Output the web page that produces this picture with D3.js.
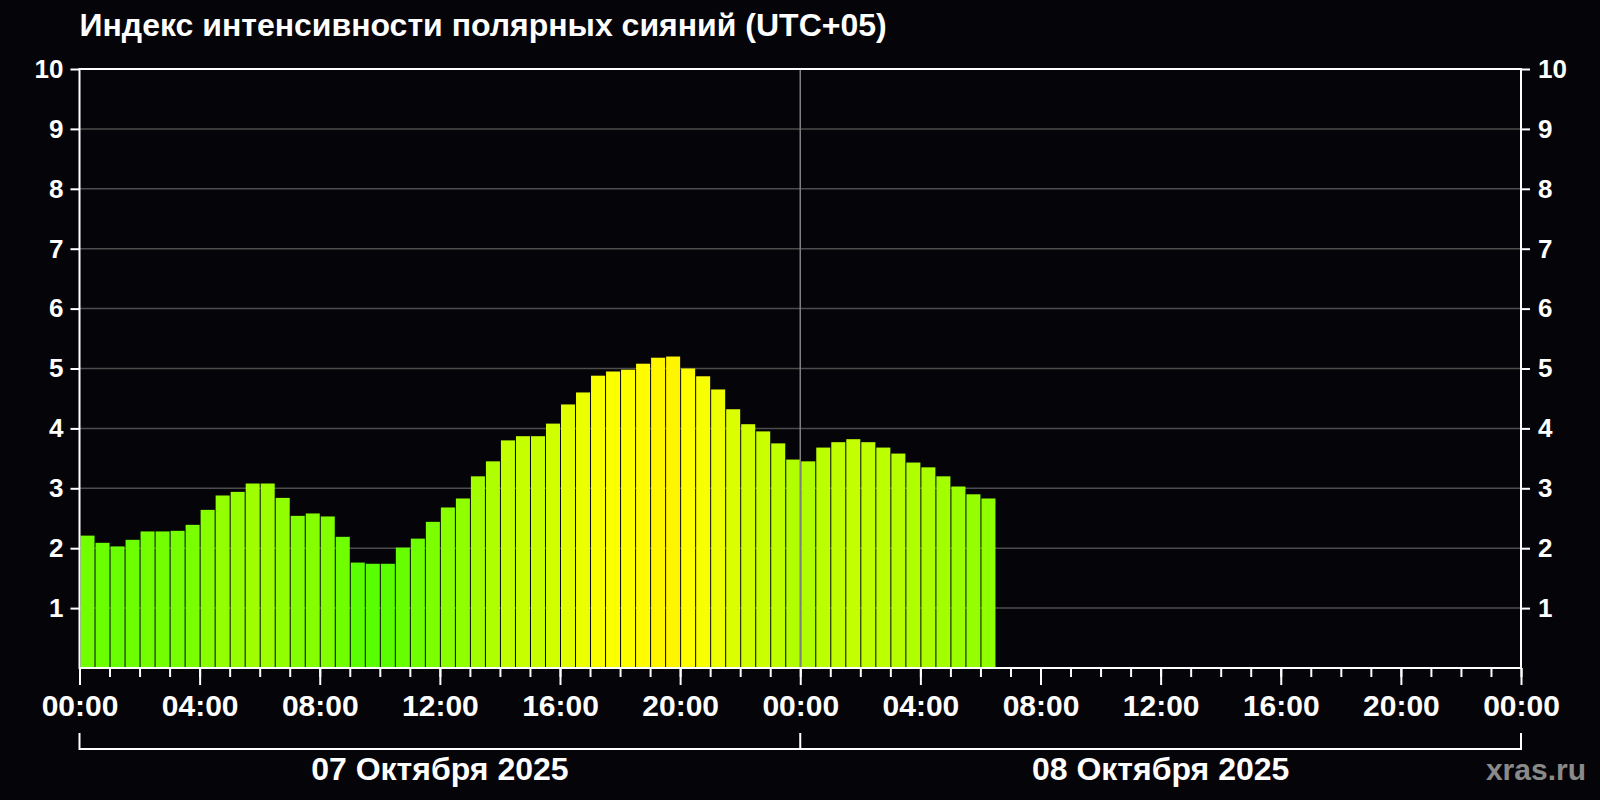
<!DOCTYPE html>
<html>
<head>
<meta charset="utf-8">
<script src="https://cdn.jsdelivr.net/npm/d3@7"></script>
<style>
    html, body { margin: 0; padding: 0; background: #050409; }
    svg { display: block; font-family: "Liberation Sans", Arial, sans-serif; font-weight: bold; }
</style>
</head>
<body>
<svg id="chart" width="1600" height="800"></svg>
<script>
"use strict";

//  Data  ---
var title = "Индекс интенсивности полярных сияний (UTC+05)";
var dayLabels = ["07 Октября 2025", "08 Октября 2025"];
var stepHours = 0.5;    // one bar per half hour, starting 07.10 00:00
var auroraIndex = [
    2.21, 2.09, 2.03, 2.14, 2.28, 2.28, 2.29, 2.39, 2.64, 2.88,
    2.94, 3.08, 3.08, 2.84, 2.54, 2.58, 2.53, 2.19, 1.76, 1.74,
    1.74, 2.01, 2.16, 2.44, 2.68, 2.83, 3.20, 3.45, 3.80, 3.87,
    3.87, 4.08, 4.40, 4.60, 4.88, 4.95, 4.98, 5.08, 5.18, 5.20,
    5.00, 4.87, 4.65, 4.32, 4.07, 3.95, 3.75, 3.48, 3.45, 3.68,
    3.77, 3.82, 3.77, 3.68, 3.58, 3.43, 3.35, 3.20, 3.03, 2.90,
    2.83
];
var yTicks = [1, 2, 3, 4, 5, 6, 7, 8, 9, 10];
var majorHours = d3.range(0, 49, 4);
var minorHours = d3.range(0, 49, 1);

//  Scales  ---
var svg = d3.select("#chart");
var plotLeft = 79.5, plotRight = 1521, plotTop = 69, plotBottom = 668;

var x = d3.scaleLinear().domain([0, 48]).range([plotLeft, plotRight]);
var y = d3.scaleLinear().domain([0, 10]).range([plotBottom, plotTop]);
var color = d3.scaleLinear().domain([0, 5, 10]).range(["#00ff00", "#ffff00", "#ff0000"]).clamp(true);

function hourLabel(h) {
    return d3.format("02")(h % 24) + ":00";
}

function styleText(sel, size) {
    sel
        .attr("fill", "#ffffff")
        .style("font-size", size + "px")
        .style("font-family", "\"Liberation Sans\", Arial, sans-serif")
        .style("font-weight", "bold")
    ;
}

svg.append("rect")
    .attr("width", 1600)
    .attr("height", 800)
    .attr("fill", "#050409")
;

//  Title  ---
svg.append("text")
    .attr("x", plotLeft)
    .attr("y", 36)
    .attr("fill", "#ffffff")
    .style("font-size", "32px")
    .text(title)
;

//  Grid  ---
svg.append("g")
    .selectAll("line")
    .data(yTicks.filter(function (d) { return d < 10; }))
    .enter().append("line")
    .attr("x1", plotLeft)
    .attr("x2", plotRight)
    .attr("y1", function (d) { return y(d); })
    .attr("y2", function (d) { return y(d); })
    .attr("stroke", "#4d4d4d")
    .attr("stroke-width", 1.5)
;

//  Bars  ---
var step = x(stepHours) - x(0);
svg.append("g")
    .selectAll("rect")
    .data(auroraIndex)
    .enter().append("rect")
    .attr("x", function (d, i) { return x(i * stepHours) + 1; })
    .attr("y", function (d) { return y(d); })
    .attr("width", step - 1)
    .attr("height", function (d) { return y(0) - y(d); })
    .attr("fill", function (d) { return color(d); })
;

//  Day divider  ---
svg.append("line")
    .attr("x1", x(24))
    .attr("x2", x(24))
    .attr("y1", plotTop)
    .attr("y2", plotBottom)
    .attr("stroke", "#808080")
    .attr("stroke-width", 1.5)
;

//  Frame  ---
svg.append("path")
    .attr("d", "M" + plotLeft + "," + plotBottom + "V" + plotTop + "H" + plotRight + "V" + plotBottom + "Z")
    .attr("fill", "none")
    .attr("stroke", "#ffffff")
    .attr("stroke-width", 2)
;

//  Y axes  ---
var yLeft = svg.append("g")
    .attr("transform", "translate(" + plotLeft + ",0)")
    .call(d3.axisLeft(y).tickValues(yTicks).tickSize(9).tickPadding(7).tickFormat(d3.format("d")))
;
var yRight = svg.append("g")
    .attr("transform", "translate(" + plotRight + ",0)")
    .call(d3.axisRight(y).tickValues(yTicks).tickSize(9).tickPadding(8).tickFormat(d3.format("d")))
;
[yLeft, yRight].forEach(function (g) {
    g.select(".domain").remove();
    g.selectAll(".tick line").attr("stroke", "#ffffff").attr("stroke-width", 2);
    g.selectAll(".tick text").call(styleText, 26);
});

//  X axis  ---
var xMinor = svg.append("g")
    .attr("transform", "translate(0," + plotBottom + ")")
    .call(d3.axisBottom(x).tickValues(minorHours).tickSize(9).tickFormat(""))
;
var xMajor = svg.append("g")
    .attr("transform", "translate(0," + plotBottom + ")")
    .call(d3.axisBottom(x).tickValues(majorHours).tickSize(17).tickPadding(10).tickFormat(hourLabel))
;
[xMinor, xMajor].forEach(function (g) {
    g.select(".domain").remove();
    g.selectAll(".tick line").attr("stroke", "#ffffff").attr("stroke-width", 2);
});
xMajor.selectAll(".tick text").call(styleText, 30);

//  Date bracket  ---
svg.append("path")
    .attr("d", "M" + x(0) + ",733V749H" + x(48) + "V733M" + x(24) + ",733V749")
    .attr("fill", "none")
    .attr("stroke", "#ffffff")
    .attr("stroke-width", 2)
;
svg.append("g")
    .selectAll("text")
    .data(dayLabels)
    .enter().append("text")
    .attr("x", function (d, i) { return x(12 + i * 24); })
    .attr("y", 780)
    .attr("text-anchor", "middle")
    .attr("fill", "#ffffff")
    .style("font-size", "32px")
    .text(function (d) { return d; })
;

svg.append("text")
    .attr("x", 1586)
    .attr("y", 780)
    .attr("text-anchor", "end")
    .attr("fill", "#8a8a8a")
    .style("font-size", "30px")
    .text("xras.ru")
;
</script>
</body>
</html>
